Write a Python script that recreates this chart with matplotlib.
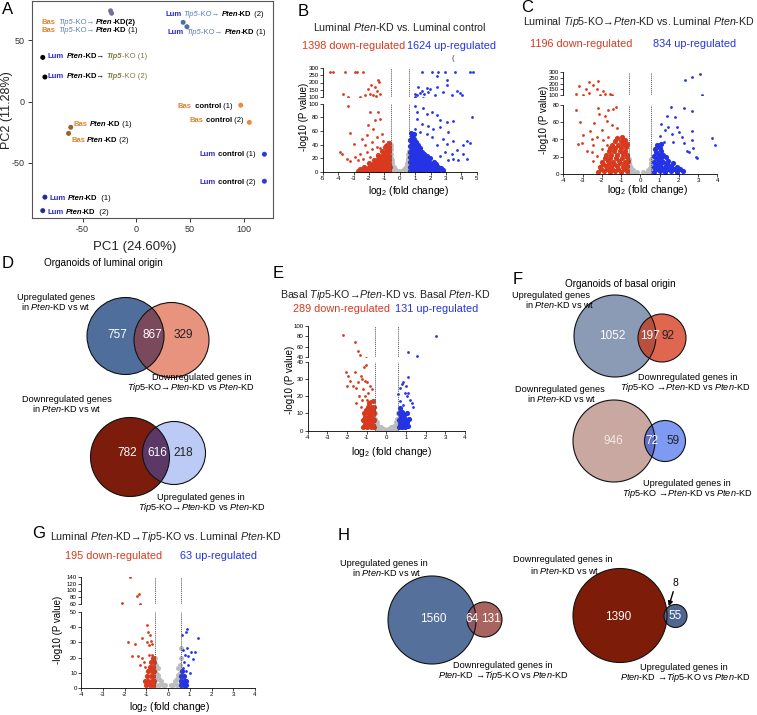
import matplotlib
matplotlib.use('Agg')
import matplotlib.pyplot as plt
from matplotlib.patches import Circle

plt.rcParams['font.family'] = ['Liberation Sans', 'DejaVu Sans']
plt.rcParams['mathtext.fontset'] = 'custom'
plt.rcParams['mathtext.rm'] = 'Liberation Sans'
plt.rcParams['mathtext.it'] = 'Liberation Sans:italic'
plt.rcParams['mathtext.bf'] = 'Liberation Sans:bold'
plt.rcParams['axes.unicode_minus'] = False

W, H = 757, 715
RED = '#d9391c'
BLUE = '#2433e6'
GRAY = '#bdbdbd'
AR = '\u2192'

# ---------------- data ----------------
# PCA
pca_pc1 = [-24, -23, 43.5, 47, -87, -85, -61, -63, 97, 105, 119, 119, -85, -87]
pca_pc2 = [74, 72, 64.6, 61, 36, 20, -21, -26, -3, -17, -43, -65, -78, -89]
pca_col = ['#7b6e9a', '#7b6e9a', '#4f6fa3', '#4f6fa3', 'k', 'k', '#9a6328', '#9a6328',
           '#ec8a3a', '#ec8a3a', '#2a3ee0', '#2a3ee0', '#202a9a', '#202a9a']

LUM = '#2a2ad0'
BAS = '#e2812f'
STEEL = '#5c7fb2'
OLIVE = '#7d7d40'
pca_labels = [
    [('Bas', BAS, 'bold', 'normal'), (' ', 'k', 'normal', 'normal'), ('Tip5', STEEL, 'normal', 'italic'),
     ('-KO' + AR + ' ', STEEL, 'normal', 'normal'), ('Pten', 'k', 'bold', 'italic'), ('-KD(2)', 'k', 'bold', 'normal')],
    [('Bas', BAS, 'bold', 'normal'), (' ', 'k', 'normal', 'normal'), ('Tip5', STEEL, 'normal', 'italic'),
     ('-KO' + AR + ' ', STEEL, 'normal', 'normal'), ('Pten', 'k', 'bold', 'italic'), ('-KD', 'k', 'bold', 'normal'),
     (' (1)', 'k', 'normal', 'normal')],
    [('Lum', LUM, 'bold', 'normal'), (' ', 'k', 'normal', 'normal'), ('Pten', 'k', 'bold', 'italic'),
     ('-KD' + AR + ' ', 'k', 'bold', 'normal'), ('Tip5', OLIVE, 'bold', 'italic'), ('-KO (1)', OLIVE, 'normal', 'normal')],
    [('Lum', LUM, 'bold', 'normal'), (' ', 'k', 'normal', 'normal'), ('Pten', 'k', 'bold', 'italic'),
     ('-KD' + AR + ' ', 'k', 'bold', 'normal'), ('Tip5', OLIVE, 'bold', 'italic'), ('-KO (2)', OLIVE, 'normal', 'normal')],
    [('Bas', BAS, 'bold', 'normal'), (' ', 'k', 'normal', 'normal'), ('Pten', 'k', 'bold', 'italic'),
     ('-KD', 'k', 'bold', 'normal'), (' (1)', 'k', 'normal', 'normal')],
    [('Bas', BAS, 'bold', 'normal'), (' ', 'k', 'normal', 'normal'), ('Pten', 'k', 'bold', 'italic'),
     ('-KD', 'k', 'bold', 'normal'), (' (2)', 'k', 'normal', 'normal')],
    [('Bas', BAS, 'bold', 'normal'), ('  control', 'k', 'bold', 'normal'), (' (1)', 'k', 'normal', 'normal')],
    [('Bas', BAS, 'bold', 'normal'), (' control', 'k', 'bold', 'normal'), (' (2)', 'k', 'normal', 'normal')],
    [('Lum', LUM, 'bold', 'normal'), (' control', 'k', 'bold', 'normal'), (' (1)', 'k', 'normal', 'normal')],
    [('Lum', LUM, 'bold', 'normal'), (' control', 'k', 'bold', 'normal'), (' (2)', 'k', 'normal', 'normal')],
    [('Lum', LUM, 'bold', 'normal'), (' ', 'k', 'normal', 'normal'), ('Pten', 'k', 'bold', 'italic'),
     ('-KD', 'k', 'bold', 'normal'), ('  (1)', 'k', 'normal', 'normal')],
    [('Lum', LUM, 'bold', 'normal'), (' ', 'k', 'normal', 'normal'), ('Pten', 'k', 'bold', 'italic'),
     ('-KD', 'k', 'bold', 'normal'), ('  (2)', 'k', 'normal', 'normal')],
    [('Lum', LUM, 'bold', 'normal'), (' ', 'k', 'normal', 'normal'), ('Tip5', STEEL, 'normal', 'italic'),
     ('-KO' + AR + ' ', STEEL, 'normal', 'normal'), ('Pten', 'k', 'bold', 'italic'), ('-KD', 'k', 'bold', 'normal'),
     (' (2)', 'k', 'normal', 'normal')],
    [('Lum', LUM, 'bold', 'normal'), (' ', 'k', 'normal', 'normal'), ('Tip5', STEEL, 'normal', 'italic'),
     ('-KO' + AR + ' ', STEEL, 'normal', 'normal'), ('Pten', 'k', 'bold', 'italic'), ('-KD', 'k', 'bold', 'normal'),
     (' (1)', 'k', 'normal', 'normal')],
]
pca_label_xy = [(42, 22), (42, 31), (48, 57), (48, 77), (74, 125), (71, 140), (177, 106), (190, 120),
                (200, 154), (200, 182), (49, 198), (47, 212), (165, 15), (168, 33)]

# volcano B: Luminal Pten-KD vs Luminal control
b_down = [(-4.52, 275), (-4.35, 275), (-3.55, 275), (-2.9, 275), (-2.79, 275), (-2.36, 275),
          (-1.39, 215), (-1.32, 203), (-1.86, 180), (-2.03, 157), (-1.6, 169), (-3.66, 123), (-2.58, 102),
          (-2.25, 116), (-1.93, 123), (-1.54, 104), (-1.28, 123), (-1.45, 139), (-1.75, 111),
          (-3.33, 97), (-1.93, 88), (-1.39, 88), (-1.28, 78), (-1.6, 76), (-2.03, 69), (-1.71, 63),
          (-3.23, 57), (-1.17, 56), (-2.14, 54), (-1.45, 51), (-2.47, 49), (-1.82, 44), (-1.06, 46),
          (-3.0, 41), (-2.25, 39), (-1.5, 37), (-3.87, 29), (-3.77, 27), (-3.44, 19), (-2.9, 22),
          (-2.58, 27), (-2.14, 29), (-1.82, 33), (-1.28, 35), (-0.95, 39), (-3.22, 16), (-2.68, 17),
          (-2.36, 19), (-1.93, 22), (-1.5, 24), (-1.06, 29), (-0.8, 33), (-0.74, 44), (-0.89, 24)]
b_down_core = [(-2.7, 2), (-2.4, 3), (-2.1, 2), (-1.8, 3), (-1.5, 2), (-1.2, 3), (-0.9, 2), (-0.68, 3),
               (-2.55, 5), (-2.25, 5), (-1.95, 5), (-1.65, 5), (-1.35, 5), (-1.05, 5), (-0.78, 5),
               (-2.3, 8), (-2.0, 7), (-1.7, 8), (-1.4, 7), (-1.1, 8), (-0.85, 7), (-0.66, 8),
               (-1.85, 10), (-1.55, 10), (-1.25, 10), (-0.95, 10), (-0.75, 10),
               (-2.0, 13), (-1.75, 12), (-1.45, 13), (-1.15, 12), (-0.9, 13), (-0.68, 12),
               (-1.6, 15), (-1.3, 15), (-1.0, 15), (-0.78, 15),
               (-1.7, 18), (-1.4, 19), (-1.15, 18), (-0.9, 19), (-0.68, 18),
               (-1.3, 21), (-1.0, 21), (-0.78, 21),
               (-1.4, 25), (-1.15, 24), (-0.9, 25), (-0.7, 24), (-1.05, 27), (-0.8, 28),
               (-1.15, 31), (-0.92, 30), (-0.7, 31), (-0.82, 34),
               (-0.95, 37), (-0.72, 36), (-0.8, 40), (-0.7, 43)]
b_up = [(1.43, 275), (2.08, 275), (2.51, 275), (2.94, 275), (3.59, 275), (4.57, 275), (4.78, 275),
        (2.45, 245), (3.05, 215), (1.21, 169), (1.75, 162), (1.97, 153), (2.4, 169), (3.05, 180),
        (0.99, 123), (1.32, 130), (1.58, 118), (1.86, 134), (2.29, 111), (2.84, 134), (3.38, 111),
        (3.7, 139), (3.92, 130), (4.03, 111), (1.1, 111), (1.43, 139),
        (4.68, 80), (0.99, 97), (1.1, 88), (1.54, 93), (1.75, 85), (2.08, 88), (2.4, 83), (2.62, 76),
        (3.05, 73), (3.48, 74), (1.1, 78), (1.43, 71), (1.86, 68), (2.19, 63), (2.62, 66), (3.16, 58),
        (0.99, 63), (1.32, 58), (1.75, 56), (2.08, 51), (2.84, 49), (3.48, 46), (4.35, 45), (4.57, 43),
        (4.13, 39), (3.05, 41), (2.4, 39), (3.7, 32), (3.38, 27), (2.94, 29), (2.62, 23), (3.48, 19),
        (3.81, 17), (3.16, 17), (4.13, 27), (4.35, 19)]
b_up_core = [(0.7, 2), (1.0, 3), (1.3, 2), (1.6, 3), (1.9, 2), (2.2, 3), (2.5, 2), (2.8, 3),
             (0.85, 5), (1.15, 5), (1.45, 5), (1.75, 5), (2.05, 5), (2.35, 5), (2.65, 6),
             (0.7, 8), (1.0, 9), (1.3, 8), (1.6, 9), (1.9, 8), (2.2, 9), (2.5, 8),
             (0.85, 12), (1.15, 12), (1.45, 12), (1.75, 12), (2.05, 12), (2.35, 11),
             (0.7, 15), (1.0, 16), (1.3, 15), (1.6, 16), (1.9, 15), (2.2, 15),
             (0.85, 19), (1.1, 19), (1.4, 19), (1.7, 19), (1.95, 20),
             (0.7, 22), (0.95, 22), (1.2, 23), (1.5, 22), (1.8, 23),
             (0.82, 26), (1.08, 26), (1.35, 26), (1.6, 27),
             (0.7, 30), (0.95, 30), (1.2, 31), (1.45, 30),
             (0.82, 34), (1.08, 34), (1.3, 35), (0.7, 38), (0.95, 39), (1.2, 39),
             (0.82, 43), (1.05, 44), (0.7, 47), (0.95, 48), (0.78, 52), (0.72, 57), (0.9, 56)]
b_ns = [(-0.5, 2), (-0.35, 1), (-0.2, 1), (-0.08, 2), (0.08, 2), (0.2, 1), (0.35, 1), (0.5, 2),
        (-0.55, 6), (-0.42, 5), (-0.28, 4), (0.28, 4), (0.42, 5), (0.55, 6),
        (-0.56, 10), (-0.47, 9), (-0.38, 8), (0.38, 8), (0.47, 9), (0.56, 10),
        (-0.56, 15), (-0.48, 13), (0.48, 13), (0.56, 15), (-0.57, 20), (-0.52, 18), (0.52, 18), (0.57, 21),
        (-0.57, 26), (0.57, 26), (-0.58, 33), (0.58, 31), (-0.58, 40)]

# volcano C: Luminal Tip5-KO->Pten-KD vs Luminal Pten-KD
c_down = [(-3.35, 108), (-3.17, 180), (-2.84, 150), (-2.65, 214), (-2.44, 191), (-2.65, 123), (-2.27, 157),
          (-2.1, 105), (-1.96, 134), (-1.85, 110), (-1.6, 108), (-1.45, 102), (-2.2, 225), (-3.0, 105),
          (-3.34, 74), (-3.13, 60), (-2.41, 59), (-2.96, 45), (-2.61, 50), (-2.53, 41), (-3.22, 35),
          (-3.05, 36), (-2.79, 27), (-2.44, 33), (-2.18, 77), (-2.13, 70), (-1.84, 68), (-1.66, 74),
          (-1.4, 76), (-1.26, 78), (-1.75, 62), (-1.49, 57), (-1.99, 51), (-1.23, 53), (-2.27, 43),
          (-1.92, 39), (-1.66, 43), (-2.53, 25), (-2.27, 21), (-2.44, 15), (-1.99, 29), (-1.75, 33)]
c_down_core = [(-2.2, 2), (-1.9, 3), (-1.6, 2), (-1.3, 3), (-1.0, 2), (-0.7, 3),
               (-2.05, 5), (-1.75, 6), (-1.45, 5), (-1.15, 6), (-0.85, 5),
               (-2.1, 8), (-1.8, 9), (-1.5, 8), (-1.2, 9), (-0.9, 8), (-0.68, 9),
               (-1.95, 11), (-1.65, 12), (-1.35, 11), (-1.05, 12), (-0.78, 11),
               (-2.0, 14), (-1.7, 15), (-1.4, 14), (-1.1, 15), (-0.82, 14), (-0.66, 15),
               (-1.85, 18), (-1.55, 18), (-1.25, 18), (-0.95, 18), (-0.7, 19),
               (-1.8, 22), (-1.5, 22), (-1.2, 22), (-0.9, 23), (-0.68, 22),
               (-1.65, 26), (-1.35, 26), (-1.05, 26), (-0.8, 27),
               (-1.6, 30), (-1.3, 30), (-1.0, 30), (-0.75, 31),
               (-1.45, 34), (-1.15, 34), (-0.88, 35), (-0.68, 35),
               (-1.3, 38), (-1.0, 38), (-0.8, 39), (-1.2, 42), (-0.95, 43)]
c_up = [(3.1, 286), (2.67, 257), (2.32, 229), (3.19, 104),
        (2.27, 77), (2.67, 73), (1.59, 78), (1.37, 68), (1.8, 66), (1.07, 58), (1.45, 55), (1.89, 55),
        (2.03, 49), (2.67, 50), (2.28, 36), (2.67, 39), (2.75, 30), (2.93, 18), (2.9, 20), (3.7, 42),
        (3.88, 34), (1.28, 51), (1.63, 46), (2.15, 43), (2.41, 27), (1.71, 37), (1.02, 44), (1.23, 37),
        (2.55, 25)]
c_up_core = [(0.7, 2), (1.0, 3), (1.3, 2), (1.6, 3), (1.9, 2), (2.2, 3),
             (0.85, 5), (1.15, 6), (1.45, 5), (1.75, 6), (2.05, 5),
             (0.7, 8), (1.0, 9), (1.3, 8), (1.6, 9), (1.9, 8),
             (0.85, 11), (1.1, 12), (1.4, 11), (1.7, 12),
             (0.7, 14), (0.95, 15), (1.2, 14), (1.45, 15),
             (0.82, 18), (1.08, 18), (1.32, 19), (0.72, 21), (0.95, 22), (1.2, 22),
             (0.8, 25), (1.05, 26), (0.75, 29), (1.0, 30), (0.85, 33), (1.05, 35)]
c_ns = [(-0.5, 1), (-0.3, 1), (-0.15, 2), (0.15, 2), (0.3, 1), (0.5, 1), (-0.55, 5), (-0.4, 4), (0.4, 4),
        (0.55, 5), (-0.56, 9), (-0.48, 7), (0.48, 7), (0.56, 9), (-0.57, 13), (0.57, 13), (-0.58, 17),
        (0.58, 17)]

# volcano E: Basal Tip5-KO->Pten-KD vs Basal Pten-KD
e_down = [(-2.19, 83), (-1.59, 69), (-1.42, 53), (-1.34, 45),
          (-2.07, 34), (-1.95, 32), (-1.6, 34), (-1.3, 32), (-2.0, 26), (-1.85, 29), (-1.7, 26),
          (-1.55, 25), (-1.45, 28), (-1.25, 30), (-1.1, 29), (-1.0, 28), (-1.15, 37), (-1.05, 38),
          (-1.2, 24), (-0.95, 22), (-1.1, 20), (-0.85, 26), (-1.4, 20), (-1.25, 18), (-0.75, 24),
          (-1.0, 18), (-0.85, 17), (-1.3, 14), (-1.55, 16)]
e_down_core = [(-1.2, 2), (-1.0, 2), (-0.8, 2), (-0.65, 2), (-1.1, 4), (-0.9, 4), (-0.72, 4),
               (-1.2, 6), (-1.0, 6), (-0.8, 6), (-0.65, 6), (-1.1, 8), (-0.9, 8), (-0.72, 8),
               (-1.15, 10), (-0.95, 10), (-0.78, 10), (-0.65, 10), (-1.05, 12), (-0.85, 12), (-0.7, 12),
               (-0.95, 14), (-0.78, 14), (-0.65, 14), (-0.88, 16), (-0.7, 17)]
e_up = [(2.51, 80), (1.08, 51), (1.58, 43),
        (1.08, 31), (0.86, 28), (0.78, 27), (0.95, 22), (1.12, 22), (0.61, 21), (1.2, 18), (1.29, 16),
        (1.37, 14), (0.69, 17), (0.86, 15), (1.03, 20), (0.7, 25), (1.0, 26)]
e_up_core = [(0.65, 2), (0.8, 2), (0.95, 2), (1.1, 3), (0.7, 4), (0.88, 4), (1.05, 5),
             (0.65, 6), (0.8, 6), (0.95, 7), (1.15, 7), (0.72, 8), (0.9, 9), (1.05, 10),
             (0.65, 10), (0.8, 11), (0.7, 13)]
e_ns = [(-0.5, 1), (-0.3, 1), (-0.1, 1), (0.1, 1), (0.3, 1), (0.5, 1), (-0.55, 4), (-0.4, 3), (-0.25, 2),
        (0.25, 2), (0.4, 3), (0.55, 4), (-0.56, 7), (-0.47, 5), (0.47, 5), (0.56, 7), (-0.58, 10), (0.58, 10)]

# volcano G: Luminal Pten-KD->Tip5-KO vs Luminal Pten-KD
g_down = [(-1.75, 138), (-1.32, 90), (-1.44, 84), (-1.29, 61), (-2.13, 64),
          (-0.98, 41), (-0.93, 37), (-0.83, 35), (-1.18, 33), (-1.85, 30), (-1.52, 29), (-0.98, 30),
          (-0.78, 31), (-0.86, 28), (-0.75, 29), (-1.64, 21), (-1.39, 21), (-1.21, 20), (-1.09, 17),
          (-0.87, 22), (-0.72, 22), (-1.29, 15), (-1.06, 14)]
g_down_core = [(-1.0, 2), (-0.85, 2), (-0.7, 2), (-1.05, 5), (-0.9, 5), (-0.75, 5), (-0.64, 5),
               (-0.95, 8), (-0.8, 8), (-0.68, 8), (-0.9, 11), (-0.75, 11), (-0.64, 11),
               (-0.85, 14), (-0.7, 14), (-0.78, 17), (-0.65, 17), (-0.7, 20)]
g_up = [(0.86, 39), (0.81, 37), (0.66, 35), (1.39, 33), (1.06, 24), (1.16, 19), (0.71, 25), (0.86, 26),
        (0.78, 22), (0.93, 21), (0.74, 17), (0.9, 15), (1.01, 10), (0.83, 11), (0.71, 13), (1.24, 24)]
g_up_core = [(0.62, 2), (0.72, 2), (0.82, 2), (0.62, 5), (0.72, 5), (0.82, 5), (0.62, 8), (0.75, 8), (0.65, 11)]
g_ns = [(-0.55, 2), (-0.4, 2), (-0.25, 2), (-0.12, 2), (0.12, 2), (0.25, 2), (0.4, 2), (0.55, 2),
        (-0.55, 6), (-0.42, 6), (-0.3, 5), (0.3, 5), (0.42, 6), (0.55, 6), (-0.55, 10), (-0.45, 9),
        (0.45, 9), (0.55, 10), (-0.57, 15), (-0.48, 13), (0.48, 13), (0.57, 15), (-0.58, 20), (0.58, 20),
        (0.58, 26)]

# Venn counts (only-A, both, only-B)
venn_d_top = [757, 867, 329]
venn_d_bot = [782, 616, 218]
venn_f_top = [1052, 197, 92]
venn_f_bot = [946, 72, 59]
venn_h_left = [1560, 64, 131]
venn_h_right = [1390, 8, 55]

# ---------------- figure ----------------
fig = plt.figure(figsize=(W / 100, H / 100), dpi=100)
ov = fig.add_axes([0, 0, 1, 1])
ov.set_xlim(0, W)
ov.set_ylim(H, 0)
ov.axis('off')
rend = fig.canvas.get_renderer()


def box(x0, x1, y0, y1):
    return [x0 / W, 1 - y1 / H, (x1 - x0) / W, (y1 - y0) / H]


def txt(x, y, s, size=6.6, **kw):
    kw.setdefault('va', 'center')
    return ov.text(x, y, s, fontsize=size, **kw)


def twidth(s, **kw):
    t = ov.text(0, 0, s + '|', **kw)
    w1 = t.get_window_extent(rend).width
    t.remove()
    t = ov.text(0, 0, '|', **kw)
    w2 = t.get_window_extent(rend).width
    t.remove()
    return w1 - w2


def rich(x, y, parts, size=5.5):
    for s, c, w, st in parts:
        kw = dict(fontsize=size, color=c, fontweight=w, fontstyle=st)
        ov.text(x, y, s, va='center', ha='left', zorder=5, **kw)
        x += twidth(s, **kw)


# panel letters
for lab, x, y in [('A', 2, 10), ('B', 298, 11), ('C', 521, 7), ('D', 2, 263), ('E', 273, 273),
                  ('F', 513, 279), ('G', 32, 533), ('H', 338, 535)]:
    txt(x, y, lab, size=12)

# ---- A: PCA ----
axA = fig.add_axes(box(32, 273, 1, 218))
axA.patch.set_alpha(0)
axA.scatter(pca_pc1, pca_pc2, s=13, c=pca_col, lw=0, zorder=3)
axA.set_xlim(-97, 127)
axA.set_ylim(-95, 82)
axA.set_xticks([-50, 0, 50, 100])
axA.set_yticks([-50, 0, 50])
axA.tick_params(labelsize=6.5, length=3, width=0.7, colors='#333', pad=2)
for sp in axA.spines.values():
    sp.set_color('#555')
    sp.set_linewidth(0.8)
txt(135, 247, 'PC1 (24.60%)', size=9.5, ha='center', color='#222')
txt(7, 110, 'PC2 (11.28%)', size=9, ha='center', rotation=90, color='#222')
for parts, (x, y) in zip(pca_labels, pca_label_xy):
    rich(x, y, parts)


# ---- volcano plots ----
def volcano(xp, ybot, ytop, xlim, blim, tlim, bticks, tticks, down, down_core, up, up_core, ns):
    axb = fig.add_axes(box(xp[0], xp[1], ybot[0], ybot[1]))
    axt = fig.add_axes(box(xp[0], xp[1], ytop[0], ytop[1]))
    for ax, lim, ticks in ((axb, blim, bticks), (axt, tlim, tticks)):
        ax.patch.set_alpha(0)
        ax.scatter([p[0] for p in ns], [p[1] for p in ns], s=13, c=GRAY, lw=0)
        for pts, core, col in ((down, down_core, RED), (up, up_core, BLUE)):
            ax.scatter([p[0] for p in core], [p[1] for p in core], s=14, c=col, lw=0)
            ax.scatter([p[0] for p in pts], [p[1] for p in pts], s=4, c=col, lw=0)
        for v in (-0.58, 0.58):
            ax.axvline(v, ls=(0, (1.5, 1)), color='#555', lw=0.6)
        ax.set_xlim(xlim)
        ax.set_ylim(lim)
        ax.set_yticks(ticks)
        ax.spines[['top', 'right']].set_visible(False)
        for sp in ax.spines.values():
            sp.set_linewidth(0.6)
        ax.tick_params(labelsize=4.4, length=2, width=0.5, pad=1)
    axt.spines['bottom'].set_visible(False)
    axt.set_xticks([])
    axb.set_xticks(range(int(xlim[0]), int(xlim[1]) + 1))


volcano((322.7, 476.7), (103.7, 172), (68, 97), (-5, 5), (0, 100), (100, 300),
        [0, 20, 40, 60, 80, 100], [100, 150, 200, 250, 300], b_down, b_down_core, b_up, b_up_core, b_ns)
volcano((563.3, 717.3), (105.3, 173.7), (72, 95.3), (-4, 4), (0, 80), (100, 300),
        [0, 20, 40, 60, 80], [100, 150, 200, 250, 300], c_down, c_down_core, c_up, c_up_core, c_ns)
volcano((307.7, 465), (361.7, 430.7), (326, 357.3), (-4, 4), (0, 40), (40, 100),
        [0, 10, 20, 30, 40], [40, 60, 80, 100], e_down, e_down_core, e_up, e_up_core, e_ns)
volcano((81, 255), (611.7, 688.3), (576.7, 604.3), (-4, 4), (0, 50), (60, 140),
        [0, 10, 20, 30, 40, 50], [60, 80, 100, 120, 140], g_down, g_down_core, g_up, g_up_core, g_ns)

TS = 7.7
CS = 7.8
LS = 7.3
# B texts
txt(400, 27, r'Luminal $\it{Pten}$-KD vs. Luminal control', size=TS, ha='center', color='#222')
txt(302, 46, '1398 down-regulated', size=CS, color=RED)
txt(407, 46, '1624 up-regulated', size=CS, color=BLUE)
txt(452, 58, '(', size=5.5, color='#333')
txt(304, 117, '-log10 (P value)', size=7, ha='center', rotation=90)
txt(409, 191, r'log$_2$ (fold change)', size=LS, ha='center')
# C texts
txt(639, 22, r'Luminal $\it{Tip5}$-KO' + AR + r'$\it{Pten}$-KD vs. Luminal $\it{Pten}$-KD', size=TS,
    ha='center', color='#222')
txt(530, 44, '1196 down-regulated', size=CS, color=RED)
txt(653, 44, '834 up-regulated', size=CS, color=BLUE)
txt(544, 120, '-log10 (P value)', size=7, ha='center', rotation=90)
txt(648, 190, r'log$_2$ (fold change)', size=LS, ha='center')
# E texts
txt(385, 295, r'Basal $\it{Tip5}$-KO' + AR + r'$\it{Pten}$-KD vs. Basal $\it{Pten}$-KD', size=TS,
    ha='center', color='#222')
txt(293, 309, '289 down-regulated', size=CS, color=RED)
txt(395, 309, '131 up-regulated', size=CS, color=BLUE)
txt(290, 380, '-log10 (P value)', size=7, ha='center', rotation=90)
txt(392, 452, r'log$_2$ (fold change)', size=LS, ha='center')
# G texts
txt(166, 537, r'Luminal $\it{Pten}$-KD' + AR + r'$\it{Tip5}$-KO vs. Luminal $\it{Pten}$-KD', size=TS,
    ha='center', color='#222')
txt(65, 556, '195 down-regulated', size=CS, color=RED)
txt(180, 556, '63 up-regulated', size=CS, color=BLUE)
txt(58, 630, '-log10 (P value)', size=7, ha='center', rotation=90)
txt(170, 707, r'log$_2$ (fold change)', size=LS, ha='center')


# ---- Venn diagrams ----
def venn(cA, rA, colA, cB, rB, colB, colAB):
    ov.add_patch(Circle(cA, rA, fc=colA, ec='none'))
    b = Circle(cB, rB, fc=colB, ec='none')
    ov.add_patch(b)
    ab = Circle(cA, rA, fc=colAB, ec='none')
    ov.add_patch(ab)
    ab.set_clip_path(b)
    ov.add_patch(Circle(cA, rA, fill=False, ec='#111', lw=0.8))
    ov.add_patch(Circle(cB, rB, fill=False, ec='#111', lw=0.8))


def counts(vals, xs, y, cols, size=8.5):
    for v, x, c in zip(vals, xs, cols):
        txt(x, y, str(v), size=size, ha='center', color=c)


WH = 'white'
DK = '#222'
txt(103, 263, 'Organoids of luminal origin', size=7.2, ha='center')
txt(620, 284, 'Organoids of basal origin', size=7.2, ha='center')

TIP_PTEN = r'$\it{Tip5}$-KO' + AR + r'$\it{Pten}$-KD vs $\it{Pten}$-KD'
TIP_PTEN_S = r'$\it{Tip5}$-KO ' + AR + r'$\it{Pten}$-KD vs $\it{Pten}$-KD'
PTEN_TIP_S = r'$\it{Pten}$-KD ' + AR + r'$\it{Tip5}$-KO vs $\it{Pten}$-KD'
IN_PTEN = r'in $\it{Pten}$-KD vs wt'

# D top
venn((125.5, 336), 38.5, '#4f6e9c', (171.5, 340), 37.5, '#e8937e', '#7a4a5c')
counts(venn_d_top, [117, 152, 183], 335, [WH, WH, DK])
txt(56, 297, 'Upregulated genes', ha='center')
txt(56, 306, IN_PTEN, ha='center')
txt(152, 378, 'Downregulated genes in')
txt(127, 388, TIP_PTEN)
# D bottom
venn((130, 457), 39.5, '#7b1c0c', (174, 453), 31.5, '#bccbf5', '#5c3866')
counts(venn_d_bot, [127, 157, 183], 453, [WH, WH, DK])
txt(22, 400, 'Downregulated genes')
txt(32, 409, IN_PTEN)
txt(157, 497, 'Upregulated genes in')
txt(138, 507, TIP_PTEN)
# F top
venn((615, 336), 41, '#8b9bb6', (662, 338), 24, '#e0674f', '#b8503f')
counts(venn_f_top, [612, 650, 668], 336, [WH, WH, DK])
txt(512, 296, 'Upregulated genes')
txt(525, 305, IN_PTEN)
txt(638, 377, 'Downregulated genes in')
txt(620, 387, TIP_PTEN_S)
# F bottom
venn((614, 441), 41, '#c8a8a0', (665, 441), 20.5, '#7e9af2', '#6070c8')
counts(venn_f_bot, [613, 652, 673], 441, ['#f4e8e4', WH, DK])
txt(515, 389, 'Downregulated genes')
txt(527, 398, IN_PTEN)
txt(643, 483, 'Upregulated genes in')
txt(622, 494, TIP_PTEN_S)
# H left
venn((432, 620), 44, '#56709c', (484.5, 619.5), 17.5, '#a8645e', '#8a5a66')
counts(venn_h_left, [433, 472, 491], 619, [WH, WH, WH])
txt(340, 563, 'Upregulated genes in')
txt(352, 573, IN_PTEN)
txt(453, 665, 'Downregulated genes in')
txt(438, 676, PTEN_TIP_S)
# H right
venn((620, 615.5), 47, '#7d1c08', (675.5, 616), 11.5, '#4e6690', '#4e6690')
txt(618, 617, str(venn_h_right[0]), size=8.5, ha='center', color=WH)
txt(675.5, 616, str(venn_h_right[2]), size=8.5, ha='center', color=WH)
txt(675, 583, str(venn_h_right[1]), size=7.5, ha='center', color='k')
ov.annotate('', xy=(668, 609), xytext=(674, 589),
            arrowprops=dict(arrowstyle='-|>', color='k', lw=1, mutation_scale=7))
txt(513, 560, 'Downregulated genes in')
txt(530, 571, IN_PTEN)
txt(640, 667, 'Upregulated genes in')
txt(620, 677, PTEN_TIP_S)

fig.savefig('out.png', dpi=100)
